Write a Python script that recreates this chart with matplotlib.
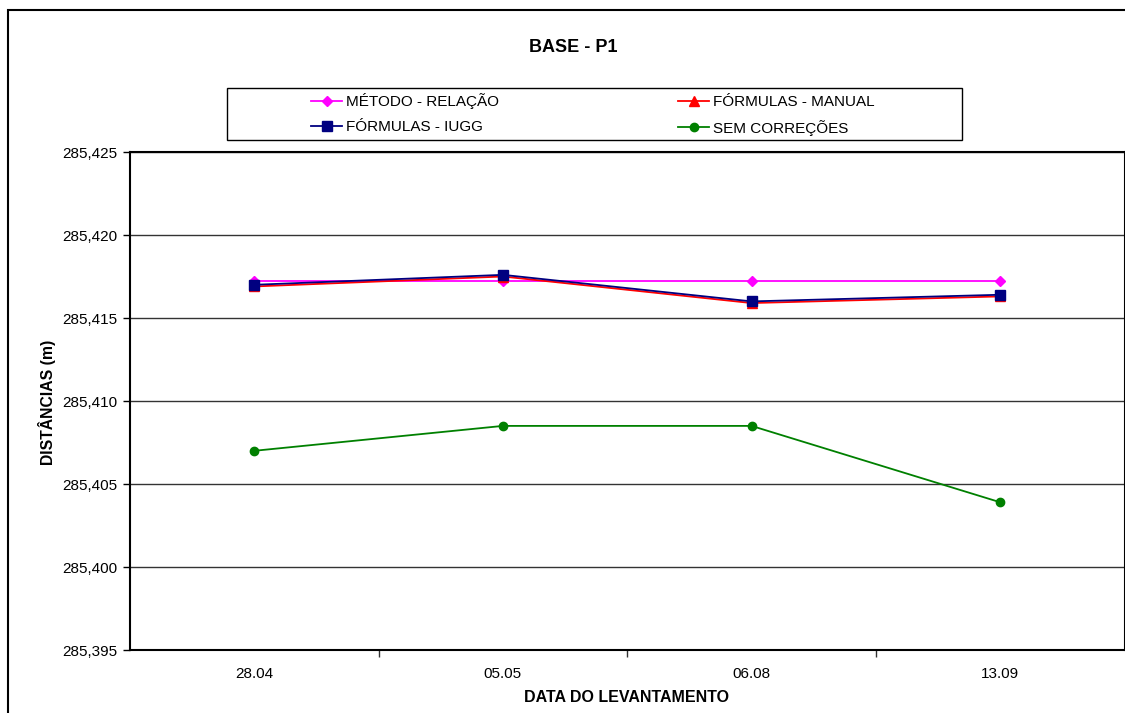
import matplotlib
matplotlib.use("Agg")
import matplotlib.pyplot as plt
from matplotlib.patches import Rectangle
from matplotlib.ticker import FuncFormatter, FixedLocator

plt.rcParams['font.family'] = ['Liberation Sans', 'DejaVu Sans']

datas = ["28.04", "05.05", "06.08", "13.09"]
metodo_relacao = [285.4172, 285.4172, 285.4172, 285.4172]
formulas_manual = [285.4169, 285.4175, 285.4159, 285.4163]
formulas_iugg = [285.4170, 285.4176, 285.4160, 285.4164]
sem_correcoes = [285.4070, 285.4085, 285.4085, 285.4039]

fig = plt.figure(figsize=(11.25, 7.13), dpi=100)
W, H = 1125, 713

# outer chart frame
fig.patches.append(Rectangle((8 / W, -0.1), 1.2, 1.1 - 10 / H, transform=fig.transFigure,
                             fill=False, edgecolor='black', linewidth=1.5))

ax = fig.add_axes([130 / W, 1 - 650 / H, (1124.5 - 130) / W, (650 - 152) / H])
x = list(range(len(datas)))

ax.plot(x, metodo_relacao, color='#FF00FF', marker='D', markersize=5.5, linewidth=1.3,
        label='MÉTODO - RELAÇÃO', zorder=3)
ax.plot(x, formulas_manual, color='#FF0000', marker='^', markersize=7, linewidth=1.3,
        label='FÓRMULAS - MANUAL', zorder=4)
ax.plot(x, formulas_iugg, color='#000080', marker='s', markersize=7, linewidth=1.3,
        label='FÓRMULAS - IUGG', zorder=5)
ax.plot(x, sem_correcoes, color='#008000', marker='o', markersize=6, linewidth=1.3,
        label='SEM CORREÇÕES', zorder=3)

ax.set_xlim(-0.5, len(datas) - 0.5)
ax.set_ylim(285.395, 285.425)
ax.set_yticks([285.395 + 0.005 * i for i in range(7)])
ax.yaxis.set_major_formatter(FuncFormatter(lambda v, p: f"{v:.3f}".replace('.', ',')))
ax.set_xticks(x)
ax.set_xticklabels(datas)
ax.xaxis.set_minor_locator(FixedLocator([i + 0.5 for i in range(len(datas) - 1)]))
ax.tick_params(axis='x', which='major', length=0, pad=12, labelsize=11)
ax.tick_params(axis='x', which='minor', length=5, direction='out', width=1, color='#333333')
ax.tick_params(axis='y', length=5, direction='out', width=1, labelsize=11, pad=4)
ax.grid(axis='y', color='#333333', linewidth=1)
ax.set_axisbelow(True)
for s in ax.spines.values():
    s.set_color('black')
    s.set_linewidth(1.5)

fig.text(627 / W, 1 - 698 / H, 'DATA DO LEVANTAMENTO', ha='center', va='center',
         fontsize=11.5, fontweight='bold')
fig.text(47 / W, 1 - 402 / H, 'DISTÂNCIAS (m)', ha='center', va='center',
         rotation=90, fontsize=11.3, fontweight='bold')
fig.text(573 / W, 1 - 48 / H, 'BASE - P1', ha='center', va='center',
         fontsize=13, fontweight='bold')

# legend frame and two-column legend inside it
fig.patches.append(Rectangle((227 / W, 1 - 140 / H), (962 - 227) / W, (140 - 88) / H,
                             transform=fig.transFigure, fill=False,
                             edgecolor='black', linewidth=1.0))
handles, labels = ax.get_legend_handles_labels()
order = [0, 2, 1, 3]
fig.legend([handles[i] for i in order], [labels[i] for i in order], ncol=2,
           loc='center left', bbox_to_anchor=(311 / W, 1 - 114.5 / H),
           frameon=False, fontsize=11, handlelength=2.05,
           handletextpad=0.26, borderpad=0, borderaxespad=0,
           labelspacing=0.7, columnspacing=11.7)

fig.savefig('out.png', dpi=100)
